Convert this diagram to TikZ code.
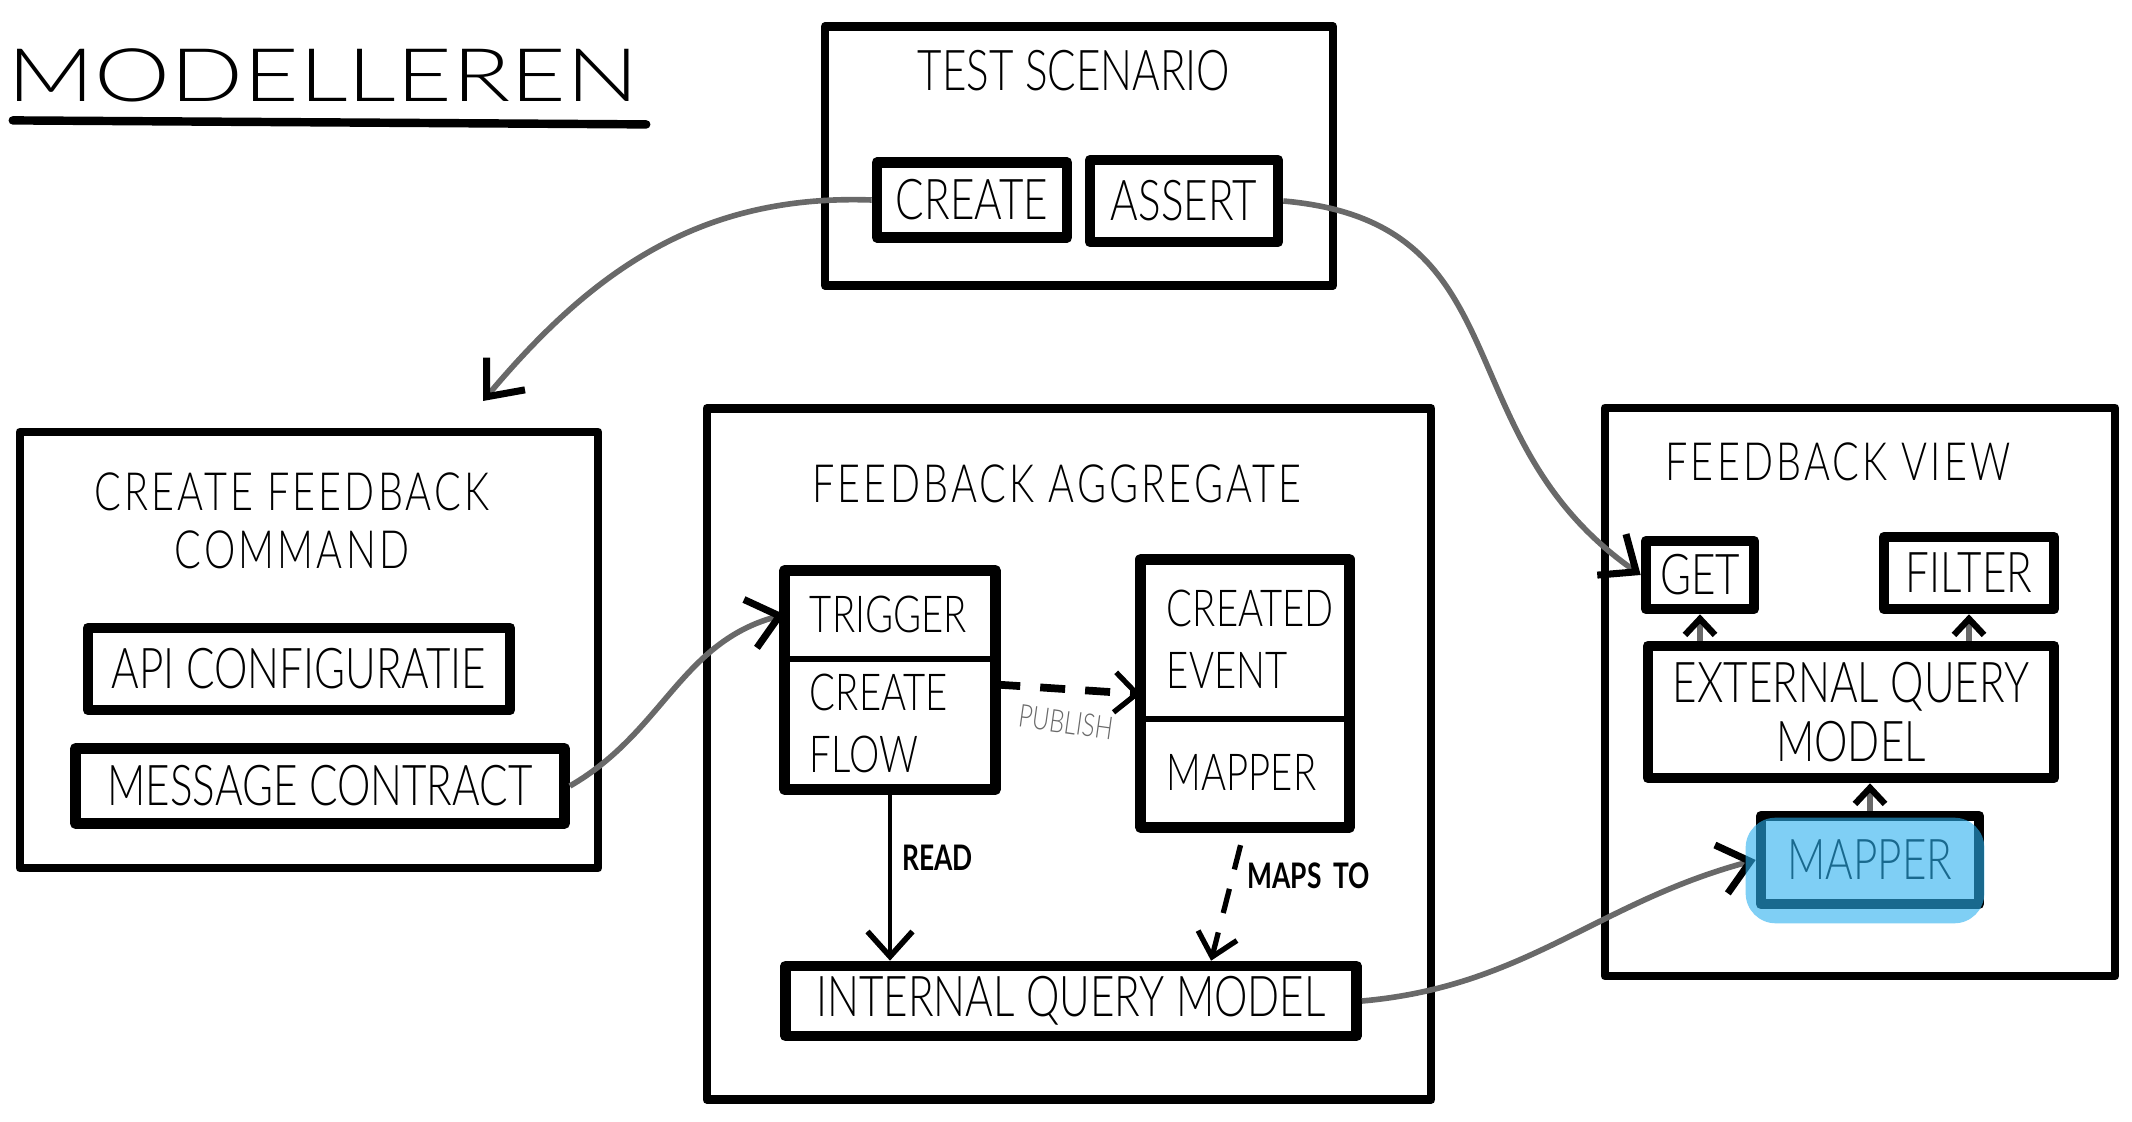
\documentclass[tikz,border=0pt]{standalone}
\usepackage{fontspec}
\setmainfont{Lato}[UprightFont=* Light, BoldFont=* Bold, FakeStretch=0.75]
\newfontfamily\titlefont{Lato}[UprightFont=* Light, FakeStretch=1.3]
\usetikzlibrary{arrows.meta}
\pgfdeclarelayer{fg}
\pgfsetlayers{main,fg}
\definecolor{marker}{RGB}{42,175,238}
\definecolor{pencilgray}{RGB}{105,105,105}
\tikzset{empty/.style={draw=none, fill=none, minimum size=0mm, inner sep=0mm},
    panel/.style={draw, line width=2.4pt, line join=round, inner sep=0mm},
    tag/.style={draw, line width=3pt, line join=round, inner sep=0mm, align=center,
        font=\fontsize{16}{17}\selectfont},
    heading/.style={empty, align=center, font=\fontsize{15}{16.5}\selectfont\addfontfeatures{LetterSpace=6}},
    cell/.style={empty, align=left, font=\fontsize{14.5}{17.5}\selectfont},
    note/.style={empty, font=\bfseries\fontsize{10}{12}\selectfont},
    pencil/.style={draw=pencilgray, line width=1.6pt,
        -{Straight Barb[length=3mm, width=5mm, line width=2pt, color=black]}},
    shortpencil/.style={draw=pencilgray, line width=1.6pt,
        -{Straight Barb[length=1.6mm, width=3mm, line width=1.8pt, color=black]}},
    dashline/.style={line width=1.5pt, dash pattern=on 2.5mm off 2mm,
        -{Straight Barb[length=2.2mm, width=4mm, line width=1.5pt]}}}

\begin{document}
\begin{tikzpicture}[x=0.01cm, y=-0.01cm]
    \useasboundingbox (0, 0) rectangle (2132, 1122);

    \node (title) [empty, font=\titlefont\fontsize{21}{24}\selectfont] at (323, 75) {MODELLEREN};
    \draw[line width=2.4pt, line cap=round] ([xshift=0.06cm, yshift=-0.18cm]title.south west)
        -- ([xshift=0.07cm, yshift=-0.22cm]title.south east);

    \node (scenario) [panel, minimum width=5.08cm, minimum height=2.59cm] at (1079, 156) {};
    \node (scenariotitle) [empty, font=\fontsize{16}{18}\selectfont] at (1074, 71) {TEST SCENARIO};
    \node (create) [tag, minimum width=1.9cm, minimum height=0.75cm] at (972, 200) {CREATE};
    \node (assert) [tag, minimum width=1.88cm, minimum height=0.82cm] at (1184, 201) {ASSERT};

    \node (command) [panel, minimum width=5.78cm, minimum height=4.36cm] at (309, 650) {};
    \node (commandtitle) [heading] at (292, 521) {CREATE FEEDBACK\\COMMAND};
    \node (api) [tag, minimum width=4.22cm, minimum height=0.82cm] at (299, 669) {API CONFIGURATIE};
    \node (contract) [tag, minimum width=4.89cm, minimum height=0.75cm] at (320, 786) {MESSAGE CONTRACT};

    \node (aggregate) [panel, minimum width=7.24cm, minimum height=6.91cm] at (1069, 754) {};
    \node (aggregatetitle) [heading] at (1057, 484) {FEEDBACK AGGREGATE};
    \node (trigger) [cell, text width=1.6cm, minimum width=2.09cm, minimum height=0.87cm] at (890, 614.5) {TRIGGER};
    \node (flow) [cell, text width=1.6cm, minimum width=2.09cm, minimum height=1.31cm] at (890, 723.5) {CREATE\\FLOW};
    \draw[line width=3pt, line join=round] (trigger.north west) rectangle (flow.south east);
    \draw[line width=1.6pt] (trigger.south west) -- (trigger.south east);

    \node (event) [cell, text width=1.56cm, minimum width=2.07cm, minimum height=1.58cm] at (1245, 639) {CREATED\\EVENT};
    \node (eventmapper) [cell, text width=1.56cm, minimum width=2.07cm, minimum height=1.09cm] at (1245, 772.5) {MAPPER};
    \draw[line width=3pt, line join=round] (event.north west) rectangle (eventmapper.south east);
    \draw[line width=1.6pt] (event.south west) -- (event.south east);

    \node (internal) [tag, minimum width=5.71cm, minimum height=0.7cm] at (1071, 1001) {INTERNAL QUERY MODEL};

    \node (view) [panel, minimum width=5.1cm, minimum height=5.68cm] at (1860, 692) {};
    \node (viewtitle) [heading] at (1838, 462) {FEEDBACK VIEW};
    \node (get) [tag, minimum width=1.08cm, minimum height=0.68cm] at (1700, 575) {GET};
    \node (filter) [tag, minimum width=1.7cm, minimum height=0.72cm] at (1969, 573) {FILTER};
    \node (external) [tag, minimum width=4.06cm, minimum height=1.32cm] at (1851, 712) {EXTERNAL QUERY\\MODEL};
    \node (viewmapper) [tag, minimum width=2.18cm, minimum height=0.88cm] at (1870, 860) {MAPPER};

    \begin{pgfonlayer}{fg}
        \fill[marker, fill opacity=0.6, rounded corners=0.3cm]
            ([shift={(-0.1cm, -0.07cm)}]viewmapper.north west)
            rectangle ([shift={(0cm, -0.14cm)}]viewmapper.south east);
    \end{pgfonlayer}

    \coordinate (commandtip) at (483, 401);
    \draw (create.west) edge[pencil, out=178, in=50] (commandtip);
    \draw (assert.east) edge[pencil, out=-5, in=145, looseness=1.2] (get.west);
    \draw (contract.east) edge[pencil, out=30, in=195] (trigger.west);
    \draw (internal.east) edge[pencil, out=5, in=195] (viewmapper.west);

    \draw (get.south |- external.north) edge[shortpencil] (get.south);
    \draw (filter.south |- external.north) edge[shortpencil] (filter.south);
    \draw (viewmapper.north) edge[shortpencil] (viewmapper.north |- external.south);

    \draw (flow.south) edge[line width=1.2pt, -{Straight Barb[length=2.5mm, width=4.5mm, line width=1.6pt]}]
        node (read) [note, pos=0.4, right=0.1cm] {READ}
        (flow.south |- internal.north);
    \draw (eventmapper.south) edge[dashline, shorten <=0.18cm]
        node (mapsto) [note, pos=0.36, right=0.12cm] {MAPS\,\,TO}
        ([xshift=1.4cm]internal.north);
    \draw ([yshift=0.39cm]flow.east) edge[dashline, line width=2.2pt]
        node (publish) [empty, below=0.18cm, rotate=-8, text=pencilgray, font=\fontsize{9}{10}\selectfont] {PUBLISH}
        ([yshift=-0.55cm]event.west);
\end{tikzpicture}
\end{document}
